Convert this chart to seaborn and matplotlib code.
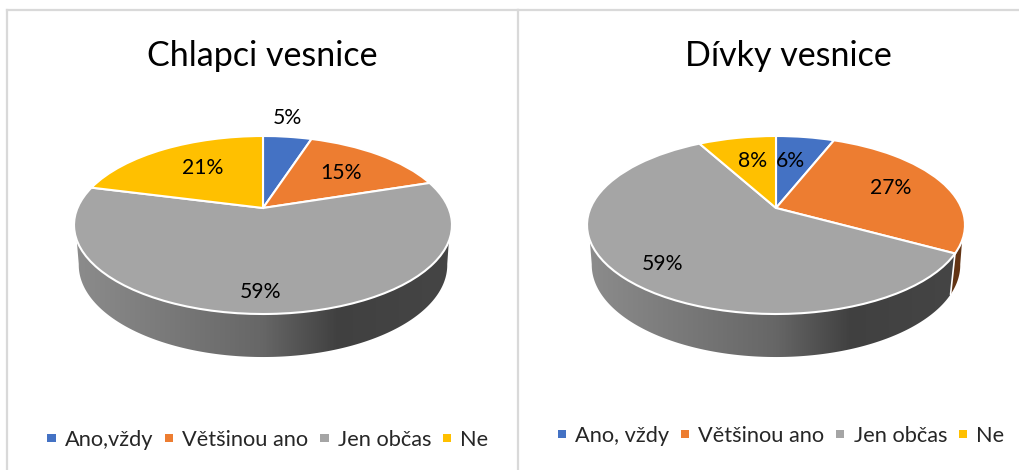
import numpy as np
import seaborn as sns
import matplotlib
matplotlib.use("Agg")
import matplotlib.pyplot as plt
from matplotlib.patches import Polygon
from matplotlib.transforms import Transform

titles = ["Chlapci vesnice", "Dívky vesnice"]
boys = [5, 15, 59, 21]
girls = [6, 27, 59, 8]
legend_boys = ["Ano,vždy", "Většinou ano", "Jen občas", "Ne"]
legend_girls = ["Ano, vždy", "Většinou ano", "Jen občas", "Ne"]
colors = ["#4472C4", "#ED7D31", "#A5A5A5", "#FFC000"]

W, H = 1019, 470
FRAME = "#d9d9d9"
# label spots in picture pixels
boys_xy = [(287, 118), (341, 173), (261, 292), (203, 168)]
girls_xy = [(790, 161), (891, 188), (663, 264), (753, 161)]


class Tilt(Transform):
    # unit circle -> tilted disc, apex sits above the ellipse centre
    input_dims = 2
    output_dims = 2
    is_separable = False
    has_inverse = False

    def __init__(self, cx, cy):
        super().__init__()
        self.cx = cx
        self.cy = cy

    def transform_non_affine(self, v):
        v = np.asarray(v, dtype=float)
        w = 1 + 0.191 * v[:, 1]
        return np.c_[self.cx + 185.5 * v[:, 0] / w,
                     self.cy - (89 * v[:, 1] + 17) / w]


def draw_walls(ax, tilt, values, palette):
    edges = np.cumsum([0] + values) / 100 * 2 * np.pi
    mid_y = tilt.cy
    for i, c in enumerate(palette):
        th = np.linspace(edges[i], edges[i + 1], 300)
        top = tilt.transform_non_affine(np.c_[np.sin(th), np.cos(th)])
        bot = np.c_[tilt.cx + (top[:, 0] - tilt.cx) * 0.975,
                    mid_y + (top[:, 1] - mid_y) * 1.034 + 40]
        top_vis = top[top[:, 1] > mid_y + 15]
        bot_vis = bot[bot[:, 1] > mid_y + 39]
        if len(top_vis) < 2:
            continue
        poly = Polygon(np.r_[top_vis, bot_vis[::-1]], closed=True,
                       transform=ax.transData, fc="none", ec="none")
        ax.add_patch(poly)
        # side shading runs left to right, light to dark
        xs = np.linspace(tilt.cx - 190, tilt.cx + 190, 256)
        f = np.interp(xs, [tilt.cx - 190, tilt.cx, tilt.cx + 75, tilt.cx + 190],
                      [0.85, 0.62, 0.39, 0.42])
        rgb = np.array(c)[None, None, :] * f[None, :, None]
        im = ax.imshow(rgb, extent=(xs[0], xs[-1], mid_y + 150, mid_y), aspect="auto", zorder=1)
        im.set_clip_path(poly)
        if i < len(palette) - 1 and top[-1, 1] > mid_y + 15:
            ax.plot([top[-1, 0], bot[-1, 0]], [top[-1, 1], bot[-1, 1]], color="white", lw=1.2, zorder=2)


def panel(ax, title, values, names, label_xy, cx, title_x, xlim, legend_at):
    palette = sns.color_palette(colors)
    tilt = Tilt(cx, 225)
    draw_walls(ax, tilt, values, palette)
    wedges, _ = ax.pie(values, colors=palette, startangle=90, counterclock=False,
                       wedgeprops=dict(edgecolor="white", linewidth=1.5, zorder=3))
    for w in wedges:
        w.set_transform(tilt + ax.transData)
    ax.set_aspect("auto")
    ax.set_xlim(*xlim)
    ax.set_ylim(H, 10)
    ax.set_frame_on(True)
    for side, sp in ax.spines.items():
        sp.set_visible(side in ("left", "top"))
        sp.set_color(FRAME)
        sp.set_linewidth(1.6)
    for v, (x, y) in zip(values, label_xy):
        ax.text(x, y, f"{v}%", ha="center", va="center", fontsize=15.2, color="black", zorder=4)
    ax.text(title_x, 56, title, ha="center", va="center", fontsize=24.5, color="black")
    leg = ax.legend(wedges, names, loc="center", ncol=4, frameon=False, fontsize=15.7,
                    bbox_to_anchor=legend_at, bbox_transform=ax.transData,
                    handlelength=0.37, handleheight=0.2, handletextpad=0.42,
                    columnspacing=0.55, borderpad=0, borderaxespad=0)
    for h in leg.legend_handles:
        h.set_linewidth(0)


sns.set_theme(style="white")
plt.rcParams["font.family"] = ["Lato", "DejaVu Sans"]

fig = plt.figure(figsize=(W / 100, H / 100), dpi=100)
ax1 = fig.add_axes([7 / W, 0, (518 - 7) / W, 1 - 10 / H])
ax2 = fig.add_axes([518 / W, 0, (W - 518) / W, 1 - 10 / H])

panel(ax1, titles[0], boys, legend_boys, boys_xy, 263, 262.5, (7, 518), (268, 440))
panel(ax2, titles[1], girls, legend_girls, girls_xy, 776, 788, (518, W), (781, 436))

fig.savefig("out.png", dpi=100, facecolor="white")
